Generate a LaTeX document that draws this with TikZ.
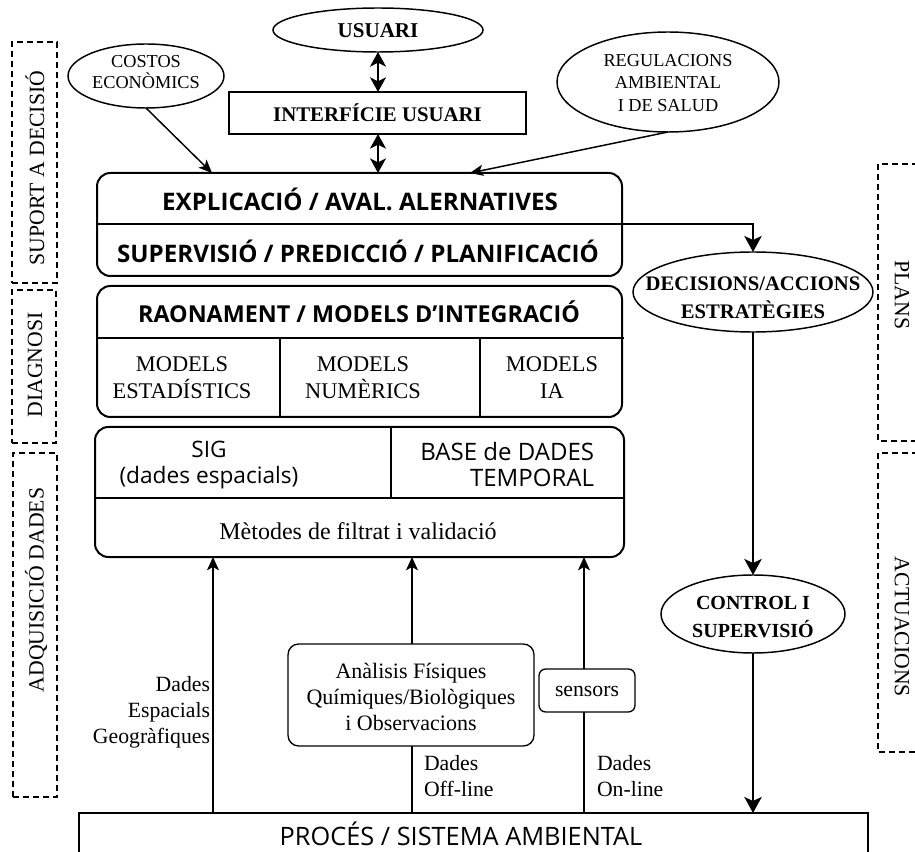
\documentclass[tikz,border=0pt]{standalone}
\usepackage{fontspec}
\setmainfont{Liberation Serif}
\newfontfamily\comic{Open Sans}
\usetikzlibrary{shapes.geometric,arrows.meta,fit}
\begin{document}
\begin{tikzpicture}[x=0.75pt,y=-0.75pt,
  every node/.style={inner sep=0pt, outer sep=0pt},
  side/.style={draw, dash pattern=on 4.5pt off 3pt, line width=0.9pt},
  sidetxt/.style={font=\fontsize{16.3}{19}\selectfont},
  ell/.style={draw, ellipse, line width=1.1pt},
  blk/.style={draw, line width=1.5pt, rounded corners=10pt},
  sq/.style={draw, line width=1.5pt},
  small/.style={draw, line width=1pt, rounded corners=8pt},
  divl/.style={line width=1.2pt},
  thindiv/.style={line width=0.8pt},
  ctxt/.style={font=\comic\bfseries\fontsize{18}{20}\selectfont},
  ctxtr/.style={font=\comic\fontsize{17.5}{19.5}\selectfont},
  ttxt/.style={font=\fontsize{16.3}{19.5}\selectfont, align=center},
  dbl/.style={line width=1.5pt, {Stealth[length=11pt,width=12pt,inset=3pt]}-{Stealth[length=11pt,width=12pt,inset=3pt]}},
  arr/.style={line width=1.1pt, -{Stealth[length=10pt,width=8.5pt,inset=2.5pt]}},
  uparr/.style={line width=1pt, -{Stealth[length=10pt,width=9pt,inset=2.5pt]}},
  bigarr/.style={line width=1.8pt, -{Stealth[length=12pt,width=13pt,inset=3pt]}},
  plain/.style={line width=1pt}
]
\useasboundingbox (0,0) rectangle (915,852);

% side dashed frames
\node[side, fit={(12,42) (57,283)}] (fsup) {};
\node[sidetxt, rotate=90] (tsup) at (35,168) {SUPORT A DECISIÓ};
\node[side, fit={(12,290) (56,443)}] (fdia) {};
\node[sidetxt, rotate=90] (tdia) at (35,365) {DIAGNOSI};
\node[side, fit={(13,453) (57,797)}] (fadq) {};
\node[sidetxt, rotate=90] (tadq) at (36,590) {ADQUISICIÓ DADES};
\draw[side] (918,164) -- (878,164) -- (878,441) -- (918,441);
\node[sidetxt, rotate=-90] (tpla) at (902,295) {PLANS};
\draw[side] (918,453) -- (878,453) -- (878,752) -- (918,752);
\node[sidetxt, rotate=-90] (tact) at (902,627) {ACTUACIONS};

% ellipses
\node[ell, minimum width=157.5pt, minimum height=33pt] (usu) at (378,30) {};
\node[font=\bfseries\fontsize{15.8}{18}\selectfont] (usuT) at (378,31) {USUARI};
\node[ell, minimum width=117pt, minimum height=48pt] (cos) at (146,76) {};
\node[font=\fontsize{13.7}{15.8}\selectfont, align=center] (cosT) at (146,72) {COSTOS\\ECONÒMICS};
\node[ell, minimum width=166.5pt, minimum height=75pt] (reg) at (668,82) {};
\node[font=\fontsize{13.7}{16.9}\selectfont, align=center] (regT) at (668,83) {REGULACIONS\\AMBIENTAL\\I DE SALUD};
\node[ell, minimum width=180pt, minimum height=60pt] (dec) at (753,292) {};
\node[font=\bfseries\fontsize{15.5}{21}\selectfont, align=center] (decT) at (753,298) {DECISIONS/ACCIONS\\ESTRATÈGIES};
\node[ell, minimum width=138pt, minimum height=58.5pt] (ctl) at (753,614) {};
\node[font=\bfseries\fontsize{15}{20.5}\selectfont, align=center] (ctlT) at (753,617) {CONTROL I\\SUPERVISIÓ};

% interface
\node[sq, fit={(229,92) (526,134)}] (int) {};
\node[font=\bfseries\fontsize{15.6}{18}\selectfont] (intT) at (int) {INTERFÍCIE USUARI};

% box 1
\node[blk, fit={(97,173) (622,276)}] (box1) {};
\draw[divl] (97,224) -- (622,224);
\coordinate (b1e) at (622,224);
\node[ctxt, font=\comic\bfseries\fontsize{18.1}{20}\selectfont] (expT) at (360,199) {EXPLICACIÓ / AVAL. ALERNATIVES};
\node[ctxt, font=\comic\bfseries\fontsize{18.1}{20}\selectfont] (supT) at (358,251) {SUPERVISIÓ / PREDICCIÓ / PLANIFICACIÓ};

% box 2
\node[blk, fit={(97,286) (622,417)}] (box2) {};
\draw[divl] (97,338) -- (624,338);
\draw[thindiv] (280,338) -- (280,417);
\draw[thindiv] (480,338) -- (480,417);
\node[ctxt, font=\comic\bfseries\fontsize{17.5}{20}\selectfont] (raoT) at (359,312) {RAONAMENT / MODELS D’INTEGRACIÓ};
\node[font=\fontsize{16.8}{20.3}\selectfont, align=center] (m1) at (182,378) {MODELS\\ESTADÍSTICS};
\node[font=\fontsize{16.8}{20.3}\selectfont, align=center] (m2) at (363,378) {MODELS\\NUMÈRICS};
\node[font=\fontsize{16.8}{20.3}\selectfont, align=center] (m3) at (552,378) {MODELS\\IA};

% box 3
\node[blk, fit={(95,427) (624,557)}] (box3) {};
\draw[divl] (95,498) -- (624,498);
\draw[thindiv] (391,427) -- (391,498);
\node[ctxtr, font=\comic\fontsize{17}{19.5}\selectfont, align=center] (sigT) at (209,465) {SIG\\(dades espacials)};
\node[ctxtr, font=\comic\fontsize{18}{19.5}\selectfont, align=right, anchor=east] (bdT) at (594,465) {BASE de DADES\\TEMPORAL};
\node[font=\fontsize{18}{21}\selectfont] (metT) at (358,531) {Mètodes de filtrat i validació};

% process
\node[draw, line width=1.2pt, fit={(79,813) (868,858)}] (proc) {};
\node[font=\comic\fontsize{19}{21}\selectfont] (procT) at (461,834) {PROCÉS / SISTEMA AMBIENTAL};

% analysis and sensors
\node[small, fit={(288,644) (534,746)}] (ana) {};
\node[font=\fontsize{16.5}{19.8}\selectfont, align=center] (anaT) at (411,697) {Anàlisis Físiques\\Químiques/Biològiques\\i Observacions};
\node[small, rounded corners=5pt, fit={(539,669) (635,712)}] (sen) {};
\node[font=\fontsize{16.3}{19}\selectfont] (senT) at (587,691) {sensors};

% data labels
\node[ttxt, align=right, anchor=east] (dEsp) at (210,712) {Dades\\Espacials\\Geogràfiques};
\node[ttxt, align=left, anchor=west] (dOff) at (424,776) {Dades\\Off-line};
\node[ttxt, align=left, anchor=west] (dOn) at (597,776) {Dades\\On-line};

% connectors top
\draw[dbl] (usu.south) -- (int.north -| usu.south);
\draw[dbl] (int.south -| usu.south) -- (box1.north -| usu.south);
\coordinate (cosend) at (212,173);
\draw[arr] (cos.south) -- (cosend);
\coordinate (regend) at (470,173);
\draw[arr] (reg.south) -- (regend);

% right column
\draw[bigarr] (b1e) -| (dec.north);
\draw[bigarr] (dec.south) -- (ctl.north);
\draw[bigarr] (ctl.south) -- (ctl.south |- proc.north);

% bottom arrows
\coordinate (xa) at (213,0);
\coordinate (xb) at (412,0);
\coordinate (xc) at (584,0);
\draw[uparr] (xa |- proc.north) -- (xa |- box3.south);
\draw[plain] (xb |- proc.north) -- (xb |- ana.south);
\draw[uparr] (xb |- ana.north) -- (xb |- box3.south);
\draw[plain] (xc |- proc.north) -- (xc |- sen.south);
\draw[uparr] (xc |- sen.north) -- (xc |- box3.south);
\end{tikzpicture}
\end{document}
